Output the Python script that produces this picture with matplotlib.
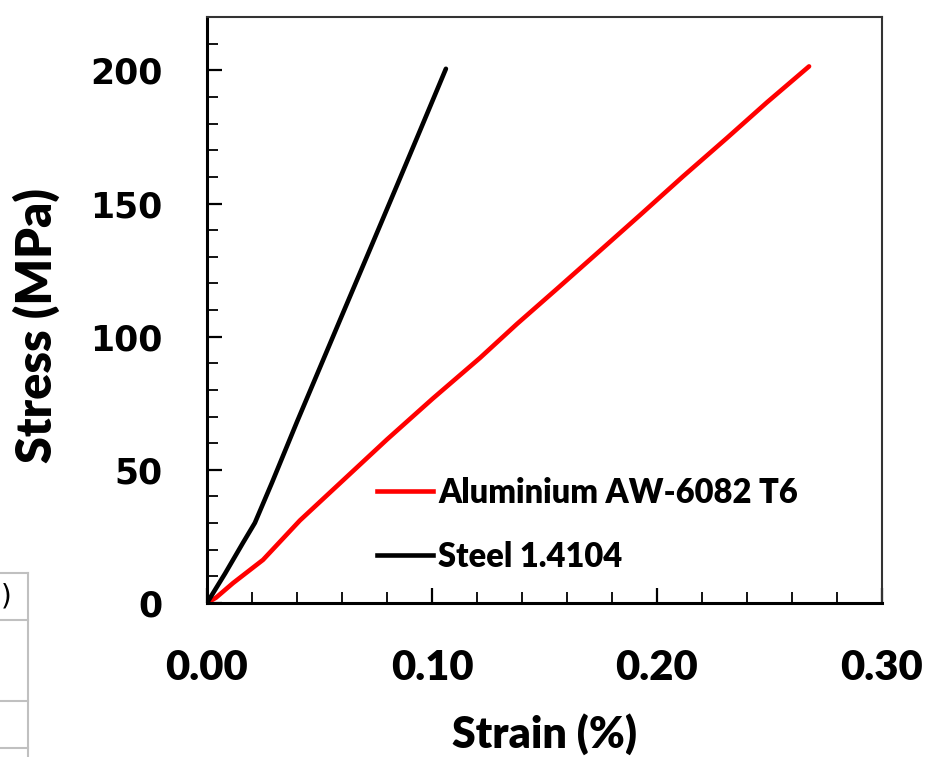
import matplotlib
matplotlib.use('Agg')
import matplotlib.pyplot as plt
from matplotlib.ticker import MultipleLocator, FormatStrFormatter
from matplotlib.lines import Line2D

# tensile test curves, strain in %, stress in MPa
alu_strain = [0.0, 0.004, 0.0116, 0.0249, 0.0413, 0.0604, 0.080, 0.1004, 0.1213,
              0.1378, 0.1556, 0.1747, 0.1924, 0.2116, 0.2311, 0.2489, 0.2676]
alu_stress = [0.0, 2.0, 7.5, 16.2, 31.0, 46.0, 61.4, 76.8, 92.0,
              104.8, 118.0, 132.3, 145.6, 160.2, 174.6, 188.0, 201.5]

steel_strain = [0.0, 0.008, 0.016, 0.0213, 0.0289, 0.040, 0.0489, 0.0591,
                0.0724, 0.085, 0.0947, 0.1062]
steel_stress = [0.0, 11.0, 22.6, 30.1, 45.2, 68.0, 85.8, 106.2,
                132.7, 157.9, 177.4, 200.6]

labels = ['Aluminium AW-6082 T6', 'Steel 1.4104']
colors = ['#ff0000', '#000000']

font = 'Lato'
weight = 800

fig = plt.figure(figsize=(9.45, 7.57), dpi=100)
ax = fig.add_axes([0.219, 0.2034, 0.7143, 0.774])

ax.plot(alu_strain, alu_stress, color=colors[0], lw=3.3, solid_capstyle='round',
        solid_joinstyle='round')
ax.plot(steel_strain, steel_stress, color=colors[1], lw=3.3, solid_capstyle='round',
        solid_joinstyle='round')

ax.set_xlim(0, 0.30)
ax.set_ylim(0, 220)
ax.xaxis.set_major_locator(MultipleLocator(0.1))
ax.xaxis.set_minor_locator(MultipleLocator(0.02))
ax.yaxis.set_major_locator(MultipleLocator(50))
ax.yaxis.set_minor_locator(MultipleLocator(10))
ax.xaxis.set_major_formatter(FormatStrFormatter('%.2f'))

ax.tick_params(which='major', direction='in', length=11, width=1.6,
               top=False, right=False)
ax.tick_params(which='minor', direction='in', length=8, width=1.3,
               top=False, right=False)
ax.tick_params(axis='x', which='major', pad=33)
ax.tick_params(axis='y', which='major', pad=32)

for lab in ax.get_xticklabels():
    lab.set_fontfamily(font)
    lab.set_fontweight(weight)
    lab.set_fontsize(30)
for lab in ax.get_yticklabels():
    lab.set_fontfamily('DejaVu Sans')
    lab.set_fontweight('bold')
    lab.set_fontsize(25)

for side in ['left', 'bottom']:
    ax.spines[side].set_linewidth(2.2)
for side in ['top', 'right']:
    ax.spines[side].set_linewidth(1.5)
    ax.spines[side].set_color('#333333')

ax.set_xlabel('Strain (%)', fontfamily=font, fontweight=weight, fontsize=31,
              labelpad=19)
ax.set_ylabel('Stress (MPa)', fontfamily=font, fontweight=weight, fontsize=35)
ax.yaxis.set_label_coords(-0.218, 0.474)

handles = [Line2D([], [], color=c, lw=3.3) for c in colors]
ax.legend(handles, labels, loc='center left', bbox_to_anchor=(0.252, 0.134),
          frameon=False, borderpad=0, borderaxespad=0, handlelength=1.7,
          handletextpad=0.17, labelspacing=0.98,
          prop={'family': font, 'weight': weight, 'size': 23.5})

# edge of the table next to the figure
grey = '#c0c0c0'
fig.add_artist(Line2D([28 / 945, 28 / 945], [0, 184 / 757], color=grey, lw=1.5))
for yy in [573, 620, 701, 748]:
    fig.add_artist(Line2D([0, 28 / 945], [1 - yy / 757, 1 - yy / 757],
                          color=grey, lw=1.5))
fig.text(1 / 945, 1 - 596 / 757, ')', fontsize=20, fontfamily='DejaVu Sans',
         va='center', ha='left')

fig.savefig('out.png', dpi=100)
